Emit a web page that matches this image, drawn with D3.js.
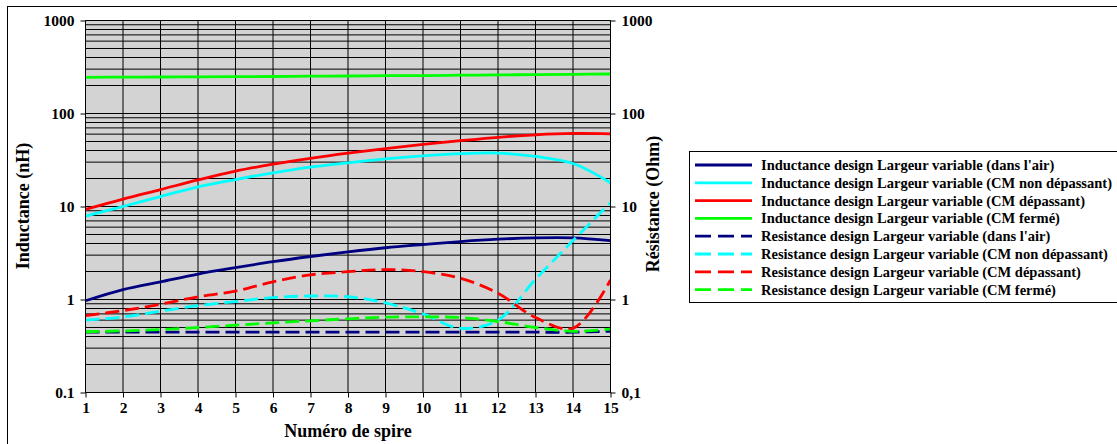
<!DOCTYPE html>
<html><head><meta charset="utf-8">
<script src="https://cdn.jsdelivr.net/npm/d3@7"></script>
<style>
html,body{margin:0;padding:0;background:#fff;}
svg text{font-family:"Liberation Serif","Times New Roman",serif;font-weight:bold;fill:#000;}
</style></head>
<body><svg id="c" width="1117" height="444"></svg>
<script>
// ---- data ----
const turns = [1,2,3,4,5,6,7,8,9,10,11,12,13,14,15];
const indAir     = [0.97,1.28,1.55,1.88,2.2,2.55,2.9,3.25,3.6,3.9,4.2,4.45,4.6,4.6,4.3];
const indCMnon   = [7.9,10,12.8,16.3,19.5,23,26.5,29.5,32.5,35,37,37.5,34.5,29,18];
const indCMdep   = [9.3,12,15.2,19.3,24,28.5,33,37.5,42,46.5,51,55.5,59,61,60.5];
const indCMferme = [245,246,247,248,249,250,252,253,255,256,258,260,262,264,266];
const resAir     = [0.445,0.445,0.445,0.445,0.445,0.445,0.445,0.445,0.445,0.445,0.445,0.445,0.445,0.445,0.455];
const resCMnon   = [0.60,0.65,0.75,0.86,0.95,1.05,1.09,1.07,0.92,0.70,0.49,0.60,1.65,4.3,11];
const resCMdep   = [0.67,0.76,0.89,1.07,1.23,1.55,1.84,1.99,2.1,1.99,1.69,1.17,0.64,0.49,1.62];
const resCMferme = [0.45,0.46,0.475,0.50,0.53,0.56,0.59,0.62,0.645,0.65,0.64,0.58,0.50,0.455,0.48];
const leftTicks  = [0.1,1,10,100,1000];
const leftTickLabels  = ["0.1","1","10","100","1000"];
const rightTickLabels = ["0,1","1","10","100","1000"];
const seriesNames = [
 "Inductance design Largeur variable (dans l'air)",
 "Inductance design Largeur variable (CM non dépassant)",
 "Inductance design Largeur variable (CM dépassant)",
 "Inductance design Largeur variable (CM fermé)",
 "Resistance design Largeur variable (dans l'air)",
 "Resistance design Largeur variable (CM non dépassant)",
 "Resistance design Largeur variable (CM dépassant)",
 "Resistance design Largeur variable (CM fermé)"
];
const seriesColors = ["#000080","#00FFFF","#FF0000","#00FF00","#000080","#00FFFF","#FF0000","#00FF00"];
const seriesData = [indAir,indCMnon,indCMdep,indCMferme,resAir,resCMnon,resCMdep,resCMferme];
const seriesDashed = [false,false,false,false,true,true,true,true];

// ---- layout ----
const svg = d3.select("#c");
const L = 85.5, R = 610.5, T = 20.5, B = 392.5;
const x = d3.scaleLinear().domain([1,15]).range([L,R]);
const y = d3.scaleLog().domain([0.1,1000]).range([B,T]);
const y2 = d3.scaleLog().domain([0.1,1000]).range([B,T]);

// outer border
svg.append("rect").attr("x",7.5).attr("y",6.5).attr("width",1120).attr("height",450)
  .attr("fill","none").attr("stroke","#000").attr("stroke-width",1);

// plot background
svg.append("rect").attr("x",L).attr("y",T).attr("width",R-L).attr("height",B-T).attr("fill","#d3d3d3");

// horizontal grid (log major + minor)
const hvals = [];
for (let e=-1;e<3;e++) for (let m=1;m<10;m++) hvals.push(m*Math.pow(10,e));
hvals.push(1000);
svg.append("g").selectAll("line").data(hvals).join("line")
  .attr("x1",L).attr("x2",R).attr("y1",d=>y(d)).attr("y2",d=>y(d))
  .attr("stroke","#000").attr("stroke-width",1);
// vertical grid
svg.append("g").selectAll("line").data(turns).join("line")
  .attr("x1",d=>x(d)).attr("x2",d=>x(d)).attr("y1",T).attr("y2",B)
  .attr("stroke","#000").attr("stroke-width",1);

// series
const clip = svg.append("clipPath").attr("id","pc").append("rect")
  .attr("x",L).attr("y",T).attr("width",R-L).attr("height",B-T);
const line = d3.line().x((d,i)=>x(turns[i])).y(d=>y(d)).curve(d3.curveCatmullRom.alpha(0.5));
const gS = svg.append("g").attr("clip-path","url(#pc)");
// draw resistances first then inductances? keep order: inductances then resistances
seriesData.forEach((s,i)=>{
  gS.append("path").attr("d",line(s)).attr("fill","none")
    .attr("stroke",seriesColors[i]).attr("stroke-width",2.8)
    .attr("stroke-dasharray",seriesDashed[i]?"14,6":null);
});

// axes
const axL = d3.axisLeft(y).tickValues(leftTicks).tickFormat((d,i)=>leftTickLabels[i]).tickSize(5).tickPadding(6);
const gL = svg.append("g").attr("transform",`translate(${L},0)`).call(axL);
const axR = d3.axisRight(y2).tickValues(leftTicks).tickFormat((d,i)=>rightTickLabels[i]).tickSize(5).tickPadding(6);
const gR = svg.append("g").attr("transform",`translate(${R},0)`).call(axR);
const axB = d3.axisBottom(x).tickValues(turns).tickFormat(d3.format("d")).tickSize(5).tickPadding(4);
const gB = svg.append("g").attr("transform",`translate(0,${B})`).call(axB);
[gL,gR,gB].forEach(g=>{
  g.select(".domain").attr("stroke","#000").attr("stroke-width",1);
  g.selectAll(".tick line").attr("stroke","#000");
  g.selectAll("text").attr("font-size","15.5px").attr("font-family","Liberation Serif, Times New Roman, serif").attr("font-weight","bold").attr("fill","#000");
});
gB.select(".domain").attr("d",`M${L},0H${R}`);
gL.select(".domain").attr("d",`M0,${T}V${B}`);
gR.select(".domain").attr("d",`M0,${T}V${B}`);

// axis titles
svg.append("text").attr("transform",`translate(29,206) rotate(-90)`).attr("text-anchor","middle")
  .attr("font-size","18px").text("Inductance (nH)");
svg.append("text").attr("transform",`translate(659,204) rotate(-90)`).attr("text-anchor","middle")
  .attr("font-size","18px").text("Résistance (Ohm)");
svg.append("text").attr("x",(L+R)/2).attr("y",437).attr("text-anchor","middle")
  .attr("font-size","18px").text("Numéro de spire");

// legend
const lg = svg.append("g");
lg.append("rect").attr("x",689.5).attr("y",151.5).attr("width",440).attr("height",151)
  .attr("fill","#fff").attr("stroke","#000").attr("stroke-width",1);
seriesNames.forEach((n,i)=>{
  const yy = 165 + i*17.8;
  lg.append("line").attr("x1",695).attr("x2",752).attr("y1",yy).attr("y2",yy)
    .attr("stroke",seriesColors[i]).attr("stroke-width",2.8)
    .attr("stroke-dasharray",seriesDashed[i]?"16,7":null);
  lg.append("text").attr("x",761).attr("y",yy).attr("dy","0.35em").attr("font-size","14.5px").text(n);
});
</script></body></html>
